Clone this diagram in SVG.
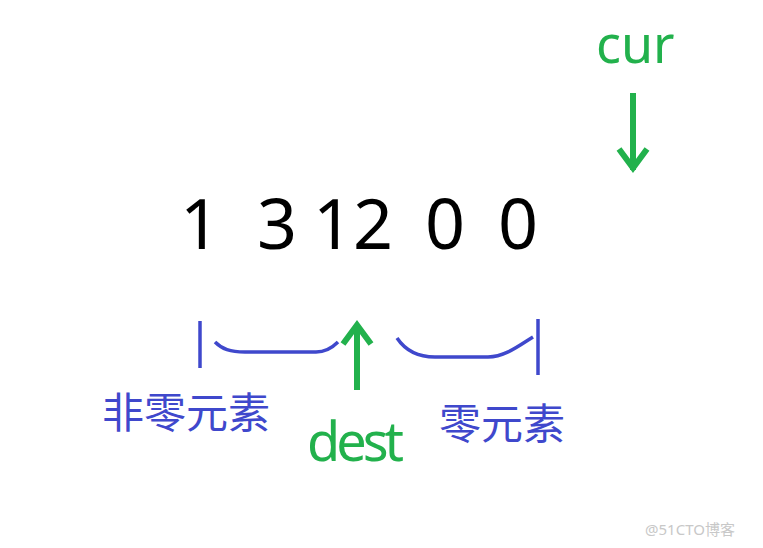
<svg xmlns="http://www.w3.org/2000/svg" width="763" height="548" viewBox="0 0 763 548">
<style>
.num{font-family:"Noto Sans","Open Sans",sans-serif;font-size:70px;fill:#000;text-anchor:middle}
.grn{font-family:"Noto Sans","Open Sans",sans-serif;fill:#22b14c}
.cjk{font-family:"Noto Sans CJK SC",sans-serif;font-size:42px;fill:#3f48cc}
.blue{stroke:#3f48cc;stroke-width:3.5;fill:none}
.garrow{stroke:#22b14c;stroke-width:6;fill:none}
.wm{font-family:"Noto Sans","Noto Sans CJK SC",sans-serif;font-size:15px;fill:#c8c8c8}
</style>
<rect width="763" height="548" fill="#fff"/>
<g id="numbers">
<text class="num" x="200" y="249">1</text>
<text class="num" x="277" y="249">3</text>
<text class="num" x="353" y="249">12</text>
<text class="num" x="445" y="249">0</text>
<text class="num" x="518" y="249">0</text>
</g>
<g id="cur-label"><text class="grn" x="596" y="63" font-size="52">cur</text></g>
<g id="dest-label"><text class="grn" x="307" y="461" font-size="54" letter-spacing="-4">dest</text></g>
<g id="nonzero-label"><text class="cjk" x="102" y="428">非零元素</text></g>
<g id="zero-label"><text class="cjk" x="439" y="439">零元素</text></g>
<g id="connectors">
<line class="blue" x1="200" y1="321" x2="200" y2="368"/>
<path class="blue" d="M215,342 C222,349 230,352 245,352 L316,352 C326,352 332,348 338,342"/>
<line class="blue" x1="538" y1="319" x2="538" y2="375"/>
<path class="blue" d="M397,338 C405,350 418,357 435,357 L488,357 C505,357 520,345 533,337"/>
<path class="garrow" d="M633,93 L633,170 M619,149 L633,168 L647,149"/>
<path class="garrow" d="M357,390 L357,324 M343,344 L357,325 L371,344"/>
</g>
<g id="watermark"><text class="wm" x="645" y="535">@51CTO博客</text></g>
</svg>
